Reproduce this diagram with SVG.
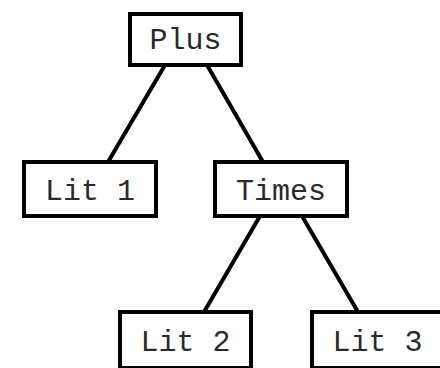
<svg xmlns="http://www.w3.org/2000/svg" width="440" height="368" viewBox="0 0 440 368">
<style>
.box{fill:#fff;stroke:#000;stroke-width:4}
.lbl{font-family:"Liberation Mono","Courier New",monospace;font-size:30px;fill:#2a2a2a;text-anchor:middle}
.edge{stroke:#000;stroke-width:4;fill:none}
</style>
<rect width="440" height="368" fill="#fff"/>
<g id="connectors">
<line class="edge" x1="165" y1="65" x2="108" y2="162"/>
<line class="edge" x1="207" y1="65" x2="263" y2="162"/>
<line class="edge" x1="260" y1="216" x2="204" y2="312"/>
<line class="edge" x1="302" y1="216" x2="358" y2="312"/>
</g>
<g id="plus"><rect class="box" x="130" y="14" width="111" height="51"/><text class="lbl" x="185.5" y="49">Plus</text></g>
<g id="lit1"><rect class="box" x="24" y="162" width="132" height="54"/><text class="lbl" x="90" y="200">Lit 1</text></g>
<g id="times"><rect class="box" x="215" y="162" width="132" height="54"/><text class="lbl" x="281" y="200">Times</text></g>
<g id="lit2"><rect class="box" x="120" y="312" width="131" height="56"/><text class="lbl" x="185.5" y="351">Lit 2</text></g>
<g id="lit3"><rect class="box" x="312" y="312" width="131" height="56"/><text class="lbl" x="377.5" y="351">Lit 3</text></g>
</svg>
